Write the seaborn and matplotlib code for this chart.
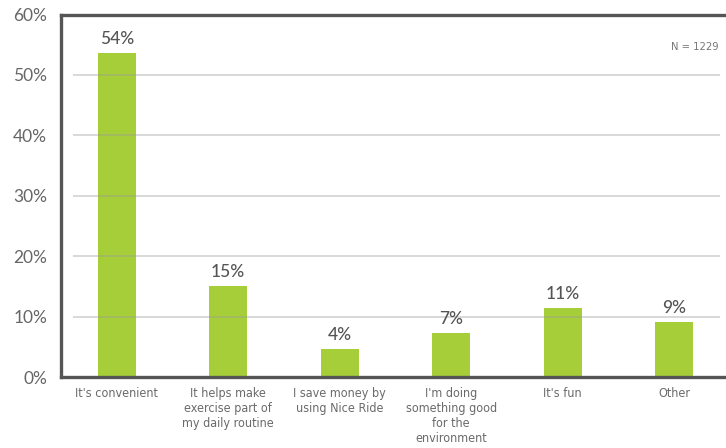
import matplotlib
matplotlib.use("Agg")
import matplotlib.pyplot as plt
import seaborn as sns
import pandas as pd

categories = ["It's convenient",
              "It helps make\nexercise part of\nmy daily routine",
              "I save money by\nusing Nice Ride",
              "I'm doing\nsomething good\nfor the\nenvironment",
              "It's fun",
              "Other"]
values = [53.6, 15.1, 4.6, 7.3, 11.4, 9.1]
value_labels = ["54%", "15%", "4%", "7%", "11%", "9%"]
y_ticks = [0, 10, 20, 30, 40, 50, 60]
y_tick_labels = ["0%", "10%", "20%", "30%", "40%", "50%", "60%"]
note = "N = 1229"

sns.set_theme(style="white")
plt.rcParams['font.family'] = ['DejaVu Sans']

df = pd.DataFrame({"reason": categories, "pct": values})

fig = plt.figure(figsize=(7.26, 4.48), dpi=100)
ax = fig.add_axes([61/726, 1 - 377/448, 669/726, (377 - 14.5)/448])

sns.barplot(data=df, x="reason", y="pct", color="#a6ce39", saturation=1,
            width=0.34, ax=ax, zorder=2, linewidth=0, edgecolor="none")

ax.set_xlim(-0.5, 5.5)
ax.set_ylim(0, 60)
ax.hlines(y_ticks[1:-1], -0.395, 5.41, color="#9a9a9a", alpha=0.45,
          linewidth=1.2, zorder=3)

ax.set_yticks(y_ticks)
ax.set_yticklabels(y_tick_labels, fontsize=12.5, color="#666666",
                   family=['Lato', 'DejaVu Sans'])
ax.tick_params(axis="y", length=0, pad=10)
ax.tick_params(axis="x", length=0, pad=7)
ax.set_xticks(range(len(categories)))
ax.set_xticklabels(categories, fontsize=9, color="#6a6a6a", linespacing=1.2,
                   va="top", fontstretch="condensed")
ax.set_xlabel("")
ax.set_ylabel("")

for i, (v, lab) in enumerate(zip(values, value_labels)):
    ax.text(i, v + 1.0, lab, ha="center", va="bottom", fontsize=12.5,
            color="#555555", family=['Lato', 'DejaVu Sans'], fontweight="medium")

ax.text(5.4, 54.6, note, ha="right", va="center", fontsize=8,
        color="#777777", fontstretch="condensed")

for s in ["left", "top", "bottom", "right"]:
    ax.spines[s].set_visible(True)
    ax.spines[s].set_color("#555555")
    ax.spines[s].set_linewidth(2.4)
    ax.spines[s].set_zorder(4)

fig.savefig("out.png", dpi=100)
